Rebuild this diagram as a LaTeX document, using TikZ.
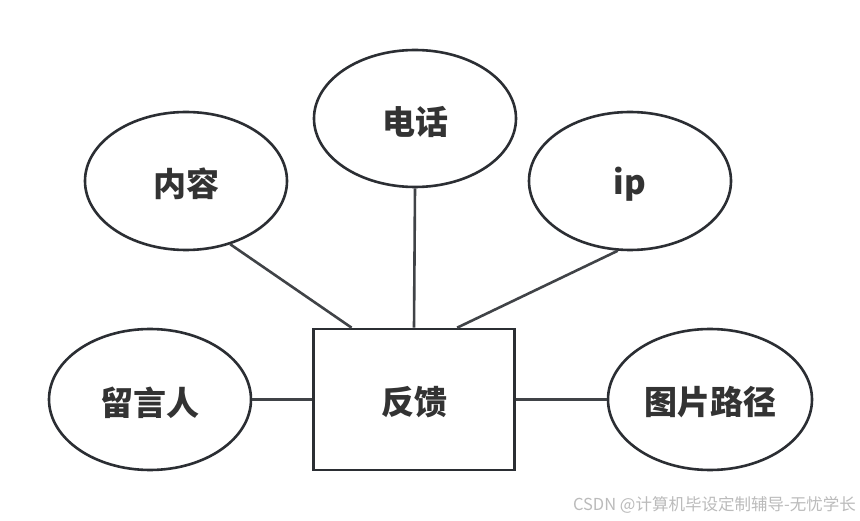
\documentclass[tikz,border=0pt]{standalone}
\usepackage{fontspec}
\newfontfamily\cjk{Noto Sans CJK SC}
\usetikzlibrary{shapes.geometric}
\definecolor{edge}{HTML}{2B2E33}
\definecolor{txt}{HTML}{333333}
\definecolor{wm}{HTML}{BBBBBB}
\newcommand{\lowtxt}[1]{\raisebox{-3pt}[\height][\depth]{#1}}
\tikzset{
  lbl/.style={font=\cjk\bfseries\fontsize{33}{38}\selectfont, text=txt},
  attr/.style={ellipse, draw=edge, line width=2.6pt, fill=white, inner sep=0pt,
    minimum width=202pt, minimum height=138pt, lbl},
  ent/.style={rectangle, draw=edge, line width=2.6pt, fill=white, inner sep=0pt,
    minimum width=201pt, minimum height=141pt, lbl},
  link/.style={draw=edge!90!white, line width=2.6pt}
}
\begin{document}
\begin{tikzpicture}[x=1pt,y=1pt]
\useasboundingbox (0,0) rectangle (860,520);
\fill[white] (0,0) rectangle (860,520);
\node[ent] (fb) at (414,120.5) {\lowtxt{反馈}};
\node[attr] (nr) at (186,339) {\lowtxt{内容}};
\node[attr, minimum height=137pt] (dh) at (415,401.5) {\lowtxt{电话}};
\node[attr] (ip) at (630,339) {\lowtxt{ip}};
\node[attr, minimum height=141pt] (ly) at (150,120.5) {\lowtxt{留言人}};
\node[attr, minimum width=204pt, minimum height=141pt] (tp) at (710,120.5) {\lowtxt{图片路径}};
\draw[link] (nr.-55) -- (fb.131);
\draw[link] (dh.south) -- (fb.north);
\draw[link] (ip.-100) -- (fb.59);
\draw[link] (ly.east) -- (fb.west);
\draw[link] (fb.east) -- (tp.west);
\node[anchor=east, text=wm, font=\cjk\fontsize{16.5}{18}\selectfont, inner sep=0pt] (wmk) at (856,15) {CSDN @计算机毕设定制辅导-无忧学长};
\end{tikzpicture}
\end{document}
